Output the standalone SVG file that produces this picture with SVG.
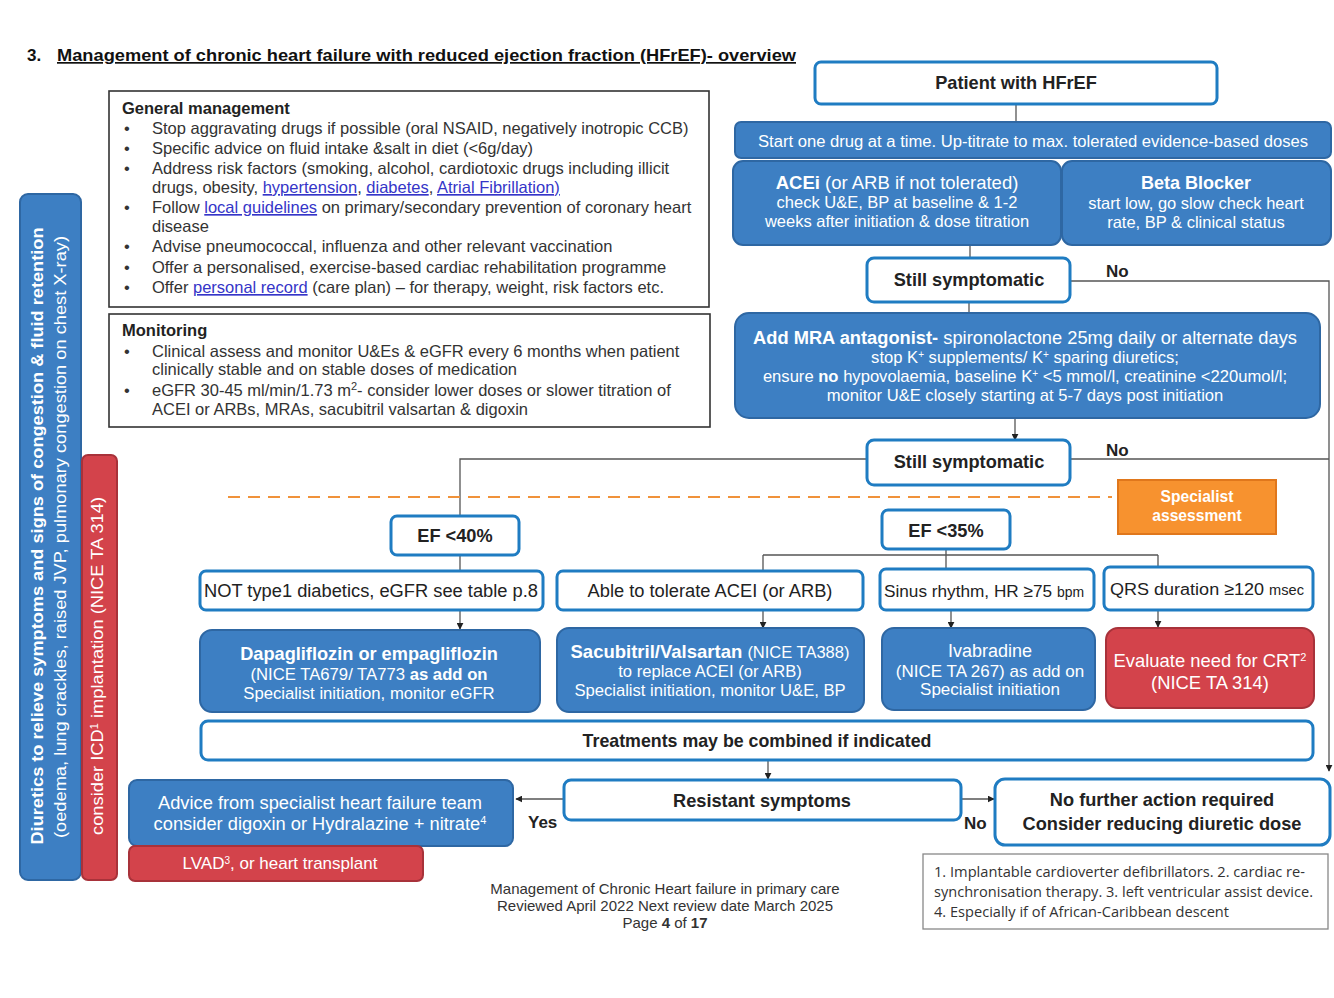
<svg xmlns="http://www.w3.org/2000/svg" width="1334" height="998" viewBox="0 0 1334 998">
<style>
text{font-family:"Liberation Sans",Arial,sans-serif;}
.bg{fill:#ffffff;}
.wb{fill:#ffffff;stroke:#1f7cc2;stroke-width:3;}
.bb{fill:#3d7fc3;stroke:#2e67a3;stroke-width:2;}
.rb{fill:#d3434b;stroke:#a8323a;stroke-width:2;}
.ob{fill:#f7922f;stroke:#e0771c;stroke-width:2;}
.panel{fill:#ffffff;stroke:#333;stroke-width:1.6;}
.con{fill:none;stroke:#555;stroke-width:1.3;}
.wt{fill:#ffffff;text-anchor:middle;}
.dt{fill:#222;font-size:18.3px;text-anchor:middle;}
.st{fill:#222;font-size:17.3px;text-anchor:start;}
.bt{fill:#222;font-size:18.2px;font-weight:bold;text-anchor:middle;}
.pt{fill:#333;font-size:16.5px;}
.ph{fill:#222;font-size:16.5px;font-weight:bold;}
.lk{fill:#3535c8;text-decoration:underline;}
.b{font-weight:bold;}
.fn{font-family:"Open Sans","Noto Sans",sans-serif;fill:#333;font-size:14.5px;}
.ft{fill:#333;font-size:15px;text-anchor:middle;}
</style>
<defs>
<marker id="ah" viewBox="0 0 10 10" refX="9" refY="5" markerWidth="7" markerHeight="7" markerUnits="userSpaceOnUse" orient="auto"><path d="M0,0 L10,5 L0,10 z" fill="#222"/></marker>
</defs>
<rect class="bg" x="0" y="0" width="1334" height="998"/>

<g id="title">
<text x="27" y="61" font-size="17" font-weight="bold" fill="#111">3.</text>
<text x="57" y="61" font-size="17" font-weight="bold" fill="#111" text-decoration="underline" textLength="739" lengthAdjust="spacingAndGlyphs">Management of chronic heart failure with reduced ejection fraction (HFrEF)- overview</text>
</g>

<g id="general-management">
<rect class="panel" x="109" y="91" width="600" height="216"/>
<text class="ph" x="122" y="114">General management</text>
<g class="pt">
<text x="124" y="134">•</text><text x="152" y="134">Stop aggravating drugs if possible (oral NSAID, negatively inotropic CCB)</text>
<text x="124" y="154">•</text><text x="152" y="154">Specific advice on fluid intake &amp;salt in diet (&lt;6g/day)</text>
<text x="124" y="174">•</text><text x="152" y="174">Address risk factors (smoking, alcohol, cardiotoxic drugs including illicit</text>
<text x="152" y="193">drugs, obesity, <tspan class="lk">hypertension</tspan>, <tspan class="lk">diabetes</tspan>, <tspan class="lk">Atrial Fibrillation)</tspan></text>
<text x="124" y="213">•</text><text x="152" y="213">Follow <tspan class="lk">local guidelines</tspan> on primary/secondary prevention of coronary heart</text>
<text x="152" y="232">disease</text>
<text x="124" y="252">•</text><text x="152" y="252">Advise pneumococcal, influenza and other relevant vaccination</text>
<text x="124" y="273">•</text><text x="152" y="273">Offer a personalised, exercise-based cardiac rehabilitation programme</text>
<text x="124" y="293">•</text><text x="152" y="293">Offer <tspan class="lk">personal record</tspan> (care plan) – for therapy, weight, risk factors etc.</text>
</g>
</g>

<g id="monitoring">
<rect class="panel" x="109" y="314" width="601" height="113"/>
<text class="ph" x="122" y="336">Monitoring</text>
<g class="pt">
<text x="124" y="357">•</text><text x="152" y="357">Clinical assess and monitor U&amp;Es &amp; eGFR every 6 months when patient</text>
<text x="152" y="375">clinically stable and on stable doses of medication</text>
<text x="124" y="396">•</text><text x="152" y="396">eGFR 30-45 ml/min/1.73 m<tspan font-size="11" baseline-shift="super">2</tspan>- consider lower doses or slower titration of</text>
<text x="152" y="415">ACEI or ARBs, MRAs, sacubitril valsartan &amp; digoxin</text>
</g>
</g>

<g id="diuretics-bar">
<rect class="bb" x="20" y="194" width="61" height="686" rx="8"/>
<text class="wt" transform="translate(43,536) rotate(-90)" style="font-size:17px;font-weight:bold" textLength="617" lengthAdjust="spacingAndGlyphs">Diuretics to relieve symptoms and signs of congestion &amp; fluid retention</text>
<text class="wt" transform="translate(66,537) rotate(-90)" style="font-size:17px" textLength="602" lengthAdjust="spacingAndGlyphs">(oedema, lung crackles, raised JVP, pulmonary congestion on chest X-ray)</text>
</g>

<g id="icd-bar">
<rect class="rb" x="82" y="455" width="35" height="425" rx="6"/>
<text class="wt" transform="translate(103,666) rotate(-90)" style="font-size:17px" textLength="338" lengthAdjust="spacingAndGlyphs">consider ICD<tspan font-size="10" baseline-shift="super">1</tspan> implantation (NICE TA 314)</text>
</g>

<g id="connectors">
<path class="con" d="M1016,104 V122"/>
<path d="M1007,159 L1017,159 L1012,166 z" fill="#ffffff"/>
<path class="con" d="M970,245 V258"/>
<path class="con" d="M1070,281 H1329 V771" marker-end="url(#ah)"/>
<path class="con" d="M969,302 V313"/>
<path class="con" d="M1015,418 V440" marker-end="url(#ah)"/>
<path class="con" d="M1070,459 H1329"/>
<path class="con" d="M867,459 H460 V516"/>
<path d="M228,497 H1112" fill="none" stroke="#f0923a" stroke-width="2" stroke-dasharray="12,8"/>
<path class="con" d="M460,555 V571"/>
<path class="con" d="M946,549 V569 M763,555 H1158 M763,555 V571 M1158,555 V569"/>
<path class="con" d="M460,610 V629" marker-end="url(#ah)"/>
<path class="con" d="M763,610 V628" marker-end="url(#ah)"/>
<path class="con" d="M951,610 V628" marker-end="url(#ah)"/>
<path class="con" d="M1158,610 V627" marker-end="url(#ah)"/>
<path class="con" d="M768,760 V779" marker-end="url(#ah)"/>
<path class="con" d="M564,799 H516" marker-end="url(#ah)"/>
<path class="con" d="M961,799 H994" marker-end="url(#ah)"/>
<text x="1106" y="277" font-size="17" font-weight="bold" fill="#222">No</text>
<text x="1106" y="456" font-size="17" font-weight="bold" fill="#222">No</text>
<text x="528" y="828" font-size="17" font-weight="bold" fill="#222">Yes</text>
<text x="964" y="829" font-size="17" font-weight="bold" fill="#222">No</text>
</g>

<g id="patient">
<rect class="wb" x="815" y="62" width="402" height="42" rx="6"/>
<text class="bt" x="1016" y="89">Patient with HFrEF</text>
</g>

<g id="start-one-drug">
<rect class="bb" x="735" y="122" width="596" height="36" rx="6"/>
<text class="wt" x="1033" y="147" style="font-size:16px" textLength="550" lengthAdjust="spacingAndGlyphs">Start one drug at a time. Up-titrate to max. tolerated evidence-based doses</text>
</g>

<g id="acei">
<rect class="bb" x="733" y="161" width="328" height="84" rx="10"/>
<text class="wt" x="897" y="189" style="font-size:18.5px"><tspan class="b">ACEi</tspan> (or ARB if not tolerated)</text>
<text class="wt" x="897" y="208" style="font-size:16.5px">check U&amp;E, BP at baseline &amp; 1-2</text>
<text class="wt" x="897" y="227" style="font-size:16.5px">weeks after initiation &amp; dose titration</text>
</g>

<g id="beta-blocker">
<rect class="bb" x="1062" y="161" width="269" height="84" rx="10"/>
<text class="wt" x="1196" y="189" style="font-size:18px;font-weight:bold">Beta Blocker</text>
<text class="wt" x="1196" y="209" style="font-size:16.5px">start low, go slow check heart</text>
<text class="wt" x="1196" y="228" style="font-size:16.5px">rate, BP &amp; clinical status</text>
</g>

<g id="still-symptomatic-1">
<rect class="wb" x="867" y="258" width="203" height="44" rx="7"/>
<text class="bt" x="969" y="286">Still symptomatic</text>
</g>

<g id="mra">
<rect class="bb" x="735" y="313" width="585" height="105" rx="14"/>
<text class="wt" x="1025" y="344" style="font-size:18.3px"><tspan class="b">Add MRA antagonist-</tspan> spironolactone 25mg daily or alternate days</text>
<text class="wt" x="1025" y="363" style="font-size:16.6px">stop K<tspan font-size="10" baseline-shift="super">+</tspan> supplements/ K<tspan font-size="10" baseline-shift="super">+</tspan> sparing diuretics;</text>
<text class="wt" x="1025" y="382" style="font-size:16.6px">ensure <tspan class="b">no</tspan> hypovolaemia, baseline K<tspan font-size="10" baseline-shift="super">+</tspan> &lt;5 mmol/l, creatinine &lt;220umol/l;</text>
<text class="wt" x="1025" y="401" style="font-size:16.6px">monitor U&amp;E closely starting at 5-7 days post initiation</text>
</g>

<g id="still-symptomatic-2">
<rect class="wb" x="867" y="440" width="203" height="45" rx="7"/>
<text class="bt" x="969" y="468">Still symptomatic</text>
</g>

<g id="specialist-assessment">
<rect class="ob" x="1118" y="480" width="158" height="54"/>
<text class="wt" x="1197" y="502" style="font-size:15.6px;font-weight:bold">Specialist</text>
<text class="wt" x="1197" y="521" style="font-size:15.6px;font-weight:bold">assessment</text>
</g>

<g id="ef40">
<rect class="wb" x="391" y="516" width="128" height="39" rx="6"/>
<text class="bt" x="455" y="542">EF &lt;40%</text>
</g>

<g id="ef35">
<rect class="wb" x="882" y="510" width="128" height="39" rx="6"/>
<text class="bt" x="946" y="537">EF &lt;35%</text>
</g>

<g id="not-type1">
<rect class="wb" x="200" y="571" width="343" height="39" rx="6"/>
<text class="dt" x="371" y="597">NOT type1 diabetics, eGFR see table p.8</text>
</g>

<g id="able-tolerate">
<rect class="wb" x="557" y="571" width="306" height="39" rx="6"/>
<text class="dt" x="710" y="597">Able to tolerate ACEI (or ARB)</text>
</g>

<g id="sinus-rhythm">
<rect class="wb" x="880" y="569" width="214" height="41" rx="6"/>
<text class="st" x="884" y="597" textLength="200" lengthAdjust="spacingAndGlyphs">Sinus rhythm, HR ≥75 <tspan font-size="14">bpm</tspan></text>
</g>

<g id="qrs">
<rect class="wb" x="1104" y="567" width="209" height="43" rx="6"/>
<text class="st" x="1110" y="595" textLength="194" lengthAdjust="spacingAndGlyphs">QRS duration ≥120 <tspan font-size="14">msec</tspan></text>
</g>

<g id="dapagliflozin">
<rect class="bb" x="200" y="630" width="340" height="82" rx="12"/>
<text class="wt" x="369" y="660" style="font-size:18.2px;font-weight:bold">Dapagliflozin or empagliflozin</text>
<text class="wt" x="369" y="680" style="font-size:16.7px">(NICE TA679/ TA773 <tspan class="b">as add on</tspan></text>
<text class="wt" x="369" y="699" style="font-size:16.7px">Specialist initiation, monitor eGFR</text>
</g>

<g id="sacubitril">
<rect class="bb" x="557" y="628" width="307" height="84" rx="12"/>
<text class="wt" x="710" y="658" style="font-size:18.5px"><tspan class="b">Sacubitril/Valsartan</tspan> <tspan font-size="16.5">(NICE TA388)</tspan></text>
<text class="wt" x="710" y="677" style="font-size:16.6px">to replace ACEI (or ARB)</text>
<text class="wt" x="710" y="696" style="font-size:16.6px">Specialist initiation, monitor U&amp;E, BP</text>
</g>

<g id="ivabradine">
<rect class="bb" x="882" y="628" width="213" height="82" rx="12"/>
<text class="wt" x="990" y="657" style="font-size:18px">Ivabradine</text>
<text class="wt" x="990" y="677" style="font-size:17px">(NICE TA 267) as add on</text>
<text class="wt" x="990" y="695" style="font-size:17px">Specialist initiation</text>
</g>

<g id="evaluate-crt">
<rect class="rb" x="1106" y="628" width="208" height="80" rx="12"/>
<text class="wt" x="1210" y="667" style="font-size:18.4px">Evaluate need for CRT<tspan font-size="11" baseline-shift="super">2</tspan></text>
<text class="wt" x="1210" y="689" style="font-size:18.4px">(NICE TA 314)</text>
</g>

<g id="treatments-combined">
<rect class="wb" x="201" y="721" width="1112" height="39" rx="7"/>
<text class="bt" x="757" y="747" style="font-size:17.8px">Treatments may be combined if indicated</text>
</g>

<g id="resistant-symptoms">
<rect class="wb" x="564" y="780" width="397" height="40" rx="7"/>
<text class="bt" x="762" y="807">Resistant symptoms</text>
</g>

<g id="advice-specialist">
<rect class="bb" x="129" y="780" width="384" height="66" rx="8"/>
<text class="wt" x="320" y="809" style="font-size:18.3px">Advice from specialist heart failure team</text>
<text class="wt" x="320" y="830" style="font-size:18.3px">consider digoxin or Hydralazine + nitrate<tspan font-size="11" baseline-shift="super">4</tspan></text>
</g>

<g id="lvad">
<rect class="rb" x="129" y="846" width="294" height="35" rx="6"/>
<text class="wt" x="280" y="869" style="font-size:17px">LVAD<tspan font-size="10" baseline-shift="super">3</tspan>, or heart transplant</text>
</g>

<g id="no-further-action">
<rect class="wb" x="995" y="779" width="335" height="66" rx="10"/>
<text class="bt" x="1162" y="806">No further action required</text>
<text class="bt" x="1162" y="830">Consider reducing diuretic dose</text>
</g>

<g id="footnotes">
<rect x="923" y="854" width="405" height="75" fill="#fff" stroke="#888" stroke-width="1.3"/>
<text class="fn" x="934" y="877" textLength="371" lengthAdjust="spacingAndGlyphs">1. Implantable cardioverter defibrillators. 2. cardiac re-</text>
<text class="fn" x="934" y="897" textLength="379" lengthAdjust="spacingAndGlyphs">synchronisation therapy. 3. left ventricular assist device.</text>
<text class="fn" x="934" y="917" textLength="295" lengthAdjust="spacingAndGlyphs">4. Especially if of African-Caribbean descent</text>
</g>

<g id="footer">
<text class="ft" x="665" y="894">Management of Chronic Heart failure in primary care</text>
<text class="ft" x="665" y="911">Reviewed April 2022 Next review date March 2025</text>
<text class="ft" x="665" y="928">Page <tspan class="b">4</tspan> of <tspan class="b">17</tspan></text>
</g>
</svg>
